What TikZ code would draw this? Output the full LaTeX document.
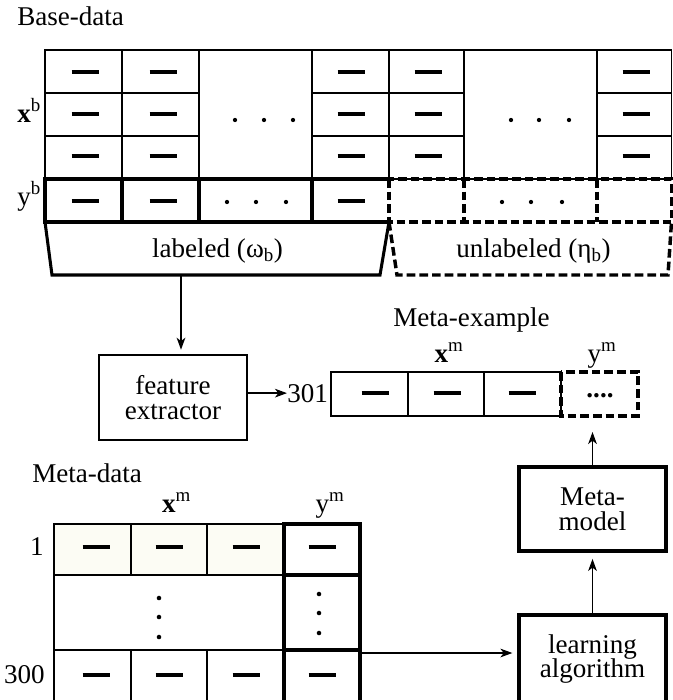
\documentclass[tikz,border=0pt]{standalone}
\usepackage{fontspec}
\setmainfont{Liberation Serif}
\usetikzlibrary{arrows.meta}
\definecolor{ivory}{RGB}{252,252,244}
\begin{document}
\begin{tikzpicture}[x=0.75pt,y=-0.75pt,
  every node/.style={font=\fontsize{20.3}{18.6}\selectfont, inner sep=0pt},
  gridln/.style={line width=1.05pt},
  thk/.style={line width=2.3pt},
  dsh/.style={line width=2.6pt, dash pattern=on 6.5pt off 3pt},
  barln/.style={line width=2.6pt},
  arr/.style={line width=1.05pt, -{Stealth[length=9pt,width=6.5pt,inset=2.5pt]}},
  boxa/.style={draw, line width=1.9pt, align=center, minimum width=111pt, minimum height=63.75pt},
  boxb/.style={draw, line width=2.9pt, align=center, minimum width=110.25pt, minimum height=63pt},
]
\useasboundingbox (0,0) rectangle (673,700);

% ---------------- Base-data table ----------------
\node[anchor=base west] (tbase) at (17,25) {Base-data};
\node[anchor=base west] (txb) at (17,122) {\textbf{x}\textsuperscript{b}};
\node[anchor=base west] (tyb) at (17,205) {y\textsuperscript{b}};

\draw[gridln] (45,50) rectangle (671.5,179);
\foreach \x in {122,199,312,389,464,597} \draw[gridln] (\x,50) -- (\x,179);
\foreach \y in {93,136} {
  \draw[gridln] (45,\y) -- (199,\y);
  \draw[gridln] (312,\y) -- (464,\y);
  \draw[gridln] (597,\y) -- (671.5,\y);
}
\foreach \cx in {85,163,351,428,636}
  \foreach \cy in {72,114,156}
    \draw[barln] (\cx-13.5,\cy) -- (\cx+13.5,\cy);
\foreach \dx in {235,264,293} \fill (\dx,120) circle[radius=1.6pt];
\foreach \dx in {511,539,569} \fill (\dx,120) circle[radius=1.6pt];

% y row, labeled part
\draw[thk] (389,179) -- (45,179) -- (45,222) -- (389,222);
\foreach \x in {122,199,312} \draw[thk] (\x,179) -- (\x,222);
\foreach \cx in {85,163,351} \draw[barln] (\cx-13.5,201) -- (\cx+13.5,201);
\foreach \dx in {227,256,286} \fill (\dx,202) circle[radius=1.6pt];
% y row, unlabeled part
\draw[dsh] (389,179) rectangle (671.5,222);
\foreach \x in {464,597} \draw[dsh] (\x,179) -- (\x,222);
\foreach \dx in {502,531,562} \fill (\dx,202) circle[radius=1.6pt];

% trapezoids
\draw[thk, line join=miter] (45,222) -- (52,275) -- (380,275) -- (389,222);
\draw[dsh] (389,222) -- (397,275) -- (668,275) -- (671.5,222);
\node[anchor=base] (tlab) at (217.5,257) {labeled (ω\textsubscript{b})};
\node[anchor=base] (tunl) at (533.5,257) {unlabeled (η\textsubscript{b})};
\coordinate (labB) at (181,275);

% ---------------- feature extractor ----------------
\node[boxa] (fe) at (173,397.5) {feature\\extractor};
\node[anchor=base west] (n301) at (287,402) {301};

% ---------------- Meta-example ----------------
\node[anchor=base] (tmex) at (471.5,326) {Meta-example};
\node[anchor=base] (txm1) at (449,362) {\textbf{x}\textsuperscript{m}};
\node[anchor=base] (tym1) at (602,362) {y\textsuperscript{m}};
\draw[gridln] (331,372) rectangle (561,416);
\foreach \x in {408,484} \draw[gridln] (\x,372) -- (\x,416);
\foreach \cx in {375,447,522} \draw[barln] (\cx-13.5,393) -- (\cx+13.5,393);
\draw[dsh] (561,372) rectangle (638,416);
\node[anchor=base] (tdots) at (600,397) {\textbf{....}};
\coordinate (ycell) at (599.5,416);

% ---------------- Meta-data ----------------
\node[anchor=base west] (tmd) at (32,482) {Meta-data};
\node[anchor=base] (txm2) at (176.5,512) {\textbf{x}\textsuperscript{m}};
\node[anchor=base] (tym2) at (330,512) {y\textsuperscript{m}};
\node[anchor=base east] (t1) at (44,555) {1};
\node[anchor=base east] (t300) at (45,683) {300};
\fill[ivory] (54,524) rectangle (284,575);
\draw[gridln] (54,702) -- (54,524) -- (284,524);
\foreach \y in {575,650} \draw[gridln] (54,\y) -- (284,\y);
\foreach \x in {131,207} {
  \draw[gridln] (\x,524) -- (\x,575);
  \draw[gridln] (\x,650) -- (\x,702);
}
\draw[thk] (284,702) -- (284,524) -- (360,524) -- (360,702);
\foreach \y in {575,650} \draw[thk] (284,\y) -- (360,\y);
\foreach \cx in {96,169,246,322} {
  \draw[barln] (\cx-13.5,547) -- (\cx+13.5,547);
  \draw[barln] (\cx-13.5,675) -- (\cx+13.5,675);
}
\foreach \dy in {598,617,637} \fill (159,\dy) circle[radius=1.7pt];
\foreach \dy in {594,613,633} \fill (319,\dy) circle[radius=1.7pt];
\coordinate (mdR) at (361,653);

% ---------------- Meta-model and learning algorithm ----------------
\node[boxb] (mm) at (592.5,509) {Meta-\\model};
\node[boxb, minimum height=66pt] (la) at (592.5,659) {learning\\algorithm};

% ---------------- connectors ----------------
\draw[arr, shorten >=3pt] (labB) -- (labB |- fe.north);
\draw[arr] (fe.east |- n301.west) -- (n301.west);
\draw[arr, shorten >=3.5pt] (mdR) -- (mdR -| la.west);
\draw[arr, shorten >=4.5pt] (la.north) -- (mm.south);
\draw[arr, shorten >=12pt] (mm.north) -- (mm.north |- ycell);
\end{tikzpicture}
\end{document}
